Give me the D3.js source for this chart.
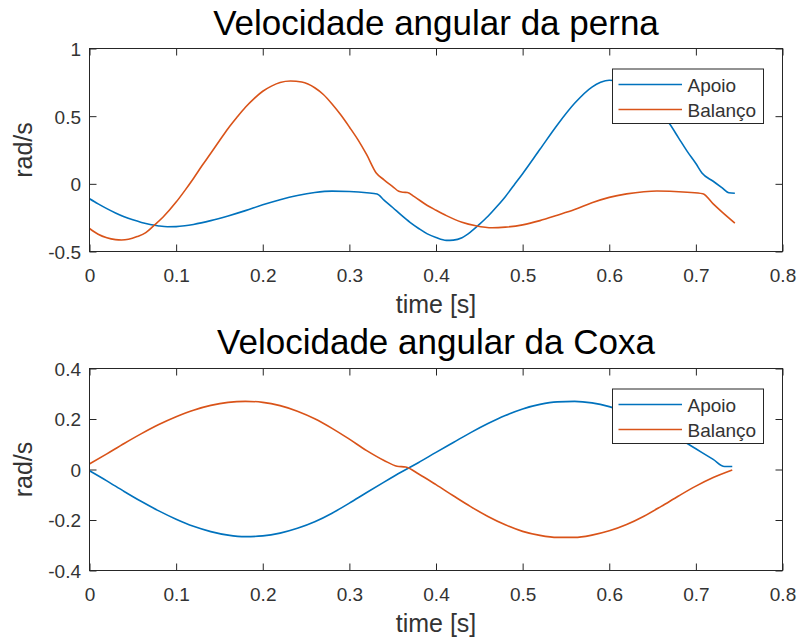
<!DOCTYPE html>
<html>
<head>
<meta charset="utf-8">
<script src="https://cdn.jsdelivr.net/npm/d3@7/dist/d3.min.js"></script>
<style>
  html, body { margin: 0; padding: 0; background: #fff; }
  svg { display: block; }
  text { font-family: "Liberation Sans", Arial, Helvetica, sans-serif; }
</style>
</head>
<body>
<svg id="chart" width="802" height="643"></svg>
<script>
// ---- data: angular velocity of the leg (perna) ----
const pernaApoioT = [0, 0.01, 0.02, 0.03, 0.04, 0.05, 0.06, 0.07, 0.08, 0.09, 0.10, 0.11, 0.12, 0.14, 0.16, 0.18, 0.20, 0.22, 0.24, 0.26, 0.28, 0.30, 0.32, 0.332, 0.34, 0.35, 0.36, 0.37, 0.38, 0.39, 0.40, 0.412, 0.42, 0.43, 0.44, 0.45, 0.46, 0.47, 0.48, 0.49, 0.50, 0.52, 0.54, 0.56, 0.58, 0.59, 0.60, 0.61, 0.62, 0.63, 0.64, 0.65, 0.66, 0.67, 0.68, 0.69, 0.70, 0.707, 0.72, 0.73, 0.738, 0.745];
const pernaApoioV = [-0.11, -0.148, -0.183, -0.215, -0.243, -0.266, -0.285, -0.3, -0.311, -0.317, -0.316, -0.31, -0.3, -0.272, -0.237, -0.198, -0.155, -0.117, -0.086, -0.064, -0.054, -0.057, -0.066, -0.075, -0.12, -0.175, -0.232, -0.285, -0.33, -0.37, -0.397, -0.418, -0.416, -0.398, -0.355, -0.3, -0.24, -0.17, -0.095, -0.01, 0.075, 0.255, 0.435, 0.595, 0.715, 0.75, 0.765, 0.76, 0.735, 0.7, 0.65, 0.59, 0.52, 0.44, 0.34, 0.24, 0.15, 0.08, 0.019, -0.028, -0.066, -0.07];

const pernaBalancoT = [0, 0.01, 0.02, 0.03, 0.037, 0.045, 0.055, 0.065, 0.074, 0.085, 0.10, 0.11, 0.12, 0.13, 0.14, 0.15, 0.16, 0.17, 0.18, 0.19, 0.20, 0.21, 0.22, 0.232, 0.245, 0.26, 0.27, 0.28, 0.29, 0.30, 0.31, 0.32, 0.331, 0.34, 0.35, 0.357, 0.362, 0.367, 0.375, 0.39, 0.40, 0.412, 0.43, 0.446, 0.465, 0.48, 0.50, 0.52, 0.54, 0.56, 0.58, 0.60, 0.62, 0.64, 0.655, 0.67, 0.69, 0.708, 0.72, 0.73, 0.745];
const pernaBalancoV = [-0.33, -0.372, -0.398, -0.412, -0.415, -0.41, -0.39, -0.36, -0.31, -0.245, -0.135, -0.05, 0.04, 0.135, 0.226, 0.318, 0.409, 0.49, 0.566, 0.63, 0.684, 0.722, 0.749, 0.76, 0.752, 0.71, 0.66, 0.59, 0.51, 0.42, 0.325, 0.215, 0.08, 0.03, -0.02, -0.055, -0.062, -0.064, -0.095, -0.16, -0.195, -0.235, -0.284, -0.31, -0.325, -0.32, -0.303, -0.272, -0.232, -0.19, -0.14, -0.1, -0.074, -0.058, -0.053, -0.055, -0.062, -0.073, -0.148, -0.207, -0.29];

// ---- data: angular velocity of the thigh (coxa) ----
const coxaApoioT = [0, 0.02, 0.04, 0.06, 0.08, 0.10, 0.12, 0.14, 0.16, 0.18, 0.20, 0.22, 0.24, 0.26, 0.28, 0.30, 0.32, 0.34, 0.36, 0.38, 0.40, 0.42, 0.44, 0.46, 0.48, 0.50, 0.52, 0.54, 0.56, 0.58, 0.60, 0.62, 0.64, 0.66, 0.68, 0.70, 0.72, 0.733, 0.742];
const coxaApoioV = [-0.005, -0.045, -0.087, -0.127, -0.164, -0.197, -0.225, -0.246, -0.26, -0.266, -0.263, -0.252, -0.233, -0.207, -0.173, -0.133, -0.091, -0.05, -0.01, 0.028, 0.068, 0.107, 0.146, 0.182, 0.214, 0.24, 0.258, 0.268, 0.27, 0.264, 0.249, 0.226, 0.197, 0.162, 0.124, 0.082, 0.04, 0.012, 0.012];

const coxaBalancoT = [0, 0.02, 0.04, 0.06, 0.08, 0.10, 0.12, 0.14, 0.16, 0.18, 0.20, 0.22, 0.24, 0.26, 0.28, 0.30, 0.32, 0.34, 0.355, 0.365, 0.38, 0.40, 0.42, 0.44, 0.46, 0.48, 0.50, 0.52, 0.54, 0.56, 0.58, 0.60, 0.62, 0.64, 0.66, 0.68, 0.70, 0.72, 0.742];
const coxaBalancoV = [0.022, 0.062, 0.103, 0.142, 0.178, 0.209, 0.235, 0.254, 0.266, 0.27, 0.266, 0.253, 0.231, 0.201, 0.163, 0.12, 0.075, 0.036, 0.013, 0.01, -0.018, -0.06, -0.104, -0.147, -0.186, -0.219, -0.245, -0.261, -0.269, -0.269, -0.26, -0.243, -0.218, -0.185, -0.146, -0.105, -0.066, -0.032, -0.002];

// ---- axes ticks and labels ----
const xTicks = [0, 0.1, 0.2, 0.3, 0.4, 0.5, 0.6, 0.7, 0.8];
const pernaYTicks = [-0.5, 0, 0.5, 1];
const coxaYTicks = [-0.4, -0.2, 0, 0.2, 0.4];
const seriesNames = ["Apoio", "Balanço"];
const seriesColors = ["#0072BD", "#D95319"];
const titles = ["Velocidade angular da perna", "Velocidade angular da Coxa"];
const xLabel = "time [s]";
const yLabel = "rad/s";

const svg = d3.select("#chart");
const axisColor = "#262626";
const textColor = "#333333";
const left = 89.5, right = 782.5;

const x = d3.scaleLinear().domain([0, 0.8]).range([left, right]);

function panel(opts) {
  const { top, bottom, yDomain, yTicks, title, series, titleY, legendTop } = opts;
  const y = d3.scaleLinear().domain(yDomain).range([bottom, top]);
  const g = svg.append("g");

  // white plot area
  g.append("rect").attr("x", left).attr("y", top)
    .attr("width", right - left).attr("height", bottom - top)
    .attr("fill", "#fff");

  const fmt = d => String(d);

  // bottom axis with labels, ticks pointing inward
  const gx = g.append("g").attr("transform", `translate(0,${bottom})`)
    .call(d3.axisBottom(x).tickValues(xTicks).tickFormat(fmt)
      .tickSizeInner(-7).tickSizeOuter(0).tickPadding(17.5));
  // top axis, ticks only
  const gxt = g.append("g").attr("transform", `translate(0,${top})`)
    .call(d3.axisTop(x).tickValues(xTicks).tickFormat("")
      .tickSizeInner(-7).tickSizeOuter(0));
  // left axis with labels
  const gy = g.append("g").attr("transform", `translate(${left},0)`)
    .call(d3.axisLeft(y).tickValues(yTicks).tickFormat(fmt)
      .tickSizeInner(-7).tickSizeOuter(0).tickPadding(8.5));
  // right axis, ticks only
  const gyr = g.append("g").attr("transform", `translate(${right},0)`)
    .call(d3.axisRight(y).tickValues(yTicks).tickFormat("")
      .tickSizeInner(-7).tickSizeOuter(0));

  [gx, gxt, gy, gyr].forEach(a => {
    a.select(".domain").remove();
    a.selectAll(".tick line").attr("stroke", axisColor).attr("stroke-width", 1);
    a.selectAll(".tick text").attr("fill", textColor)
      .style("font-size", "19px")
      .style("font-family", "'Liberation Sans', Arial, Helvetica, sans-serif");
  });
  gy.selectAll(".tick text").attr("dy", "0.36em");

  // data lines
  const line = d3.line().x(d => x(d[0])).y(d => y(d[1])).curve(d3.curveMonotoneX);
  series.forEach((s, i) => {
    const pts = s.t.map((t, k) => [t, s.v[k]]);
    g.append("path").datum(pts)
      .attr("fill", "none")
      .attr("stroke", seriesColors[i])
      .attr("stroke-width", 1.6)
      .attr("stroke-linejoin", "round")
      .attr("d", line);
  });

  // box
  g.append("rect").attr("x", left).attr("y", top)
    .attr("width", right - left).attr("height", bottom - top)
    .attr("fill", "none").attr("stroke", axisColor).attr("stroke-width", 1);

  // title
  g.append("text").attr("x", (left + right) / 2).attr("y", titleY)
    .attr("text-anchor", "middle").attr("fill", "#000")
    .style("font-size", "35px").text(title);

  // x label
  g.append("text").attr("x", (left + right) / 2).attr("y", bottom + 61.5)
    .attr("text-anchor", "middle").attr("fill", textColor)
    .style("font-size", "25px").text(xLabel);

  // y label
  g.append("text")
    .attr("transform", `translate(32,${(top + bottom) / 2}) rotate(-90)`)
    .attr("text-anchor", "middle").attr("fill", textColor)
    .style("font-size", "25px").text(yLabel);

  // legend
  const lx = 612.5, lw = 151, lh = 54.5;
  const lg = g.append("g");
  lg.append("rect").attr("x", lx).attr("y", legendTop)
    .attr("width", lw).attr("height", lh)
    .attr("fill", "#fff").attr("stroke", axisColor).attr("stroke-width", 1);
  seriesNames.forEach((name, i) => {
    const cy = legendTop + 15.5 + i * 25;
    lg.append("line").attr("x1", lx + 6).attr("x2", lx + 69.5)
      .attr("y1", cy).attr("y2", cy)
      .attr("stroke", seriesColors[i]).attr("stroke-width", 1.6);
    lg.append("text").attr("x", lx + 75).attr("y", cy + 7.5)
      .attr("fill", textColor).style("font-size", "19px").text(name);
  });
}

panel({
  top: 48.5, bottom: 251.5, yDomain: [-0.5, 1], yTicks: pernaYTicks,
  title: titles[0], titleY: 35, legendTop: 69,
  series: [
    { t: pernaApoioT, v: pernaApoioV },
    { t: pernaBalancoT, v: pernaBalancoV }
  ]
});

panel({
  top: 368.5, bottom: 570.5, yDomain: [-0.4, 0.4], yTicks: coxaYTicks,
  title: titles[1], titleY: 353.5, legendTop: 389,
  series: [
    { t: coxaApoioT, v: coxaApoioV },
    { t: coxaBalancoT, v: coxaBalancoV }
  ]
});
</script>
</body>
</html>
